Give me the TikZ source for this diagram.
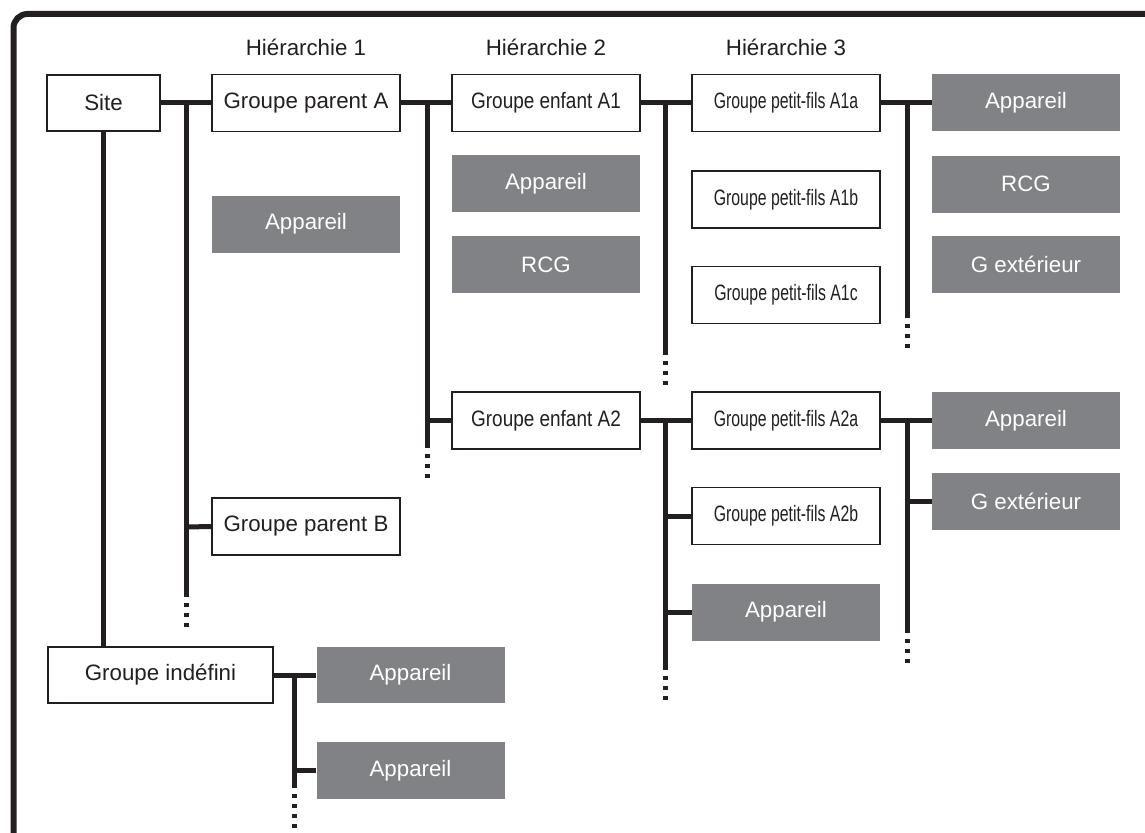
\documentclass[tikz,border=0pt]{standalone}
\usepackage{fontspec}
\setmainfont{Liberation Sans}
\usepackage{graphicx}
\definecolor{ink}{RGB}{35,31,32}
\definecolor{boxgray}{RGB}{128,130,133}
\tikzset{
  base/.style={rectangle, inner sep=0pt, minimum width=188pt, minimum height=57pt,
    font=\fontsize{22.3}{26}\selectfont, align=center},
  wbox/.style={base, draw=ink, line width=1.5pt, fill=white, text=ink},
  gbox/.style={base, fill=boxgray, text=white},
  hdr/.style={inner sep=0pt, font=\fontsize{22.3}{26}\selectfont, text=ink},
  bus/.style={draw=ink, line width=5pt},
  dots/.style={draw=ink, line width=5pt, dash pattern=on 4pt off 6pt, dash phase=4pt},
  frame/.style={draw=ink, line width=6pt, rounded corners=14pt}
}
\newcommand{\cnd}[2]{\scalebox{#1}[1]{#2}}
\begin{document}
\begin{tikzpicture}[x=1pt,y=-1pt]
\useasboundingbox (0,0) rectangle (1145,832);
\draw[frame] (13.5,850) -- (13.5,14) -- (1170,14);

% headers
\node[hdr] (h1) at (306,47) {Hiérarchie 1};
\node[hdr] (h2) at (546,47) {Hiérarchie 2};
\node[hdr] (h3) at (786,47) {Hiérarchie 3};

% nodes
\node[wbox, minimum width=113pt, minimum height=56pt] (site) at (103.5,103) {Site};
\node[wbox] (pA) at (306,103) {Groupe parent A};
\node[wbox] (e1) at (546,103) {\cnd{0.85}{Groupe enfant A1}};
\node[wbox] (g1a) at (786,103) {\cnd{0.71}{Groupe petit-fils A1a}};
\node[gbox] (d1a) at (1026,103) {Appareil};

\node[gbox] (appA) at (306,224) {Appareil};
\node[gbox] (appE1) at (546,183.5) {Appareil};
\node[gbox] (rcgE1) at (546,264.5) {RCG};
\node[wbox] (g1b) at (786,199.5) {\cnd{0.71}{Groupe petit-fils A1b}};
\node[wbox] (g1c) at (786,295) {\cnd{0.71}{Groupe petit-fils A1c}};
\node[gbox] (rcgR) at (1026,184) {RCG};
\node[gbox] (gextR) at (1026,264.5) {G extérieur};

\node[wbox] (e2) at (546,420.5) {\cnd{0.85}{Groupe enfant A2}};
\node[wbox] (g2a) at (786,420.5) {\cnd{0.71}{Groupe petit-fils A2a}};
\node[gbox] (d2a) at (1026,420.5) {Appareil};
\node[gbox] (gext2) at (1026,501.5) {G extérieur};
\node[wbox] (g2b) at (786,516) {\cnd{0.71}{Groupe petit-fils A2b}};
\node[gbox] (appG2) at (786,612) {Appareil};

\node[wbox] (pB) at (306,526.5) {Groupe parent B};

\node[wbox, minimum width=225pt, minimum height=56pt] (indef) at (160.5,675) {Groupe indéfini};
\node[gbox, minimum height=56pt] (appI1) at (410.5,675) {Appareil};
\node[gbox] (appI2) at (410.5,770.5) {Appareil};

% bus coordinates
\coordinate (b1t) at (186,103);   \coordinate (b1e) at (186,597); \coordinate (b1d) at (186,627);
\coordinate (b1p) at (186,527);
\coordinate (b2t) at (427,103);   \coordinate (b2e) at (427,448); \coordinate (b2d) at (427,478);
\coordinate (b2p) at (427,420.5);
\coordinate (b3t) at (665,103);   \coordinate (b3e) at (665,355); \coordinate (b3d) at (665,385);
\coordinate (b4t) at (907,103);   \coordinate (b4e) at (907,318); \coordinate (b4d) at (907,348);
\coordinate (b5t) at (665,420.5); \coordinate (b5e) at (665,670); \coordinate (b5d) at (665,700);
\coordinate (b5p) at (665,516);   \coordinate (b5q) at (665,612);
\coordinate (b6t) at (907,420.5); \coordinate (b6e) at (907,633); \coordinate (b6d) at (907,663);
\coordinate (b6p) at (907,501.5);
\coordinate (b7t) at (294,675);   \coordinate (b7e) at (294,788); \coordinate (b7d) at (294,828);
\coordinate (b7p) at (294,770.5);

% connectors
\draw[bus] (site.east) -- (pA.west);
\draw[bus] (b1t) -- (b1e);
\draw[dots] (b1e) -- (b1d);
\draw[bus] (b1p) -- (pB.west);
\draw[bus] (site.south) -- (site.south |- indef.north);

\draw[bus] (pA.east) -- (e1.west);
\draw[bus] (b2t) -- (b2e);
\draw[dots] (b2e) -- (b2d);
\draw[bus] (b2p) -- (e2.west);

\draw[bus] (e1.east) -- (g1a.west);
\draw[bus] (b3t) -- (b3e);
\draw[dots] (b3e) -- (b3d);

\draw[bus] (g1a.east) -- (d1a.west);
\draw[bus] (b4t) -- (b4e);
\draw[dots] (b4e) -- (b4d);

\draw[bus] (e2.east) -- (g2a.west);
\draw[bus] (b5t) -- (b5e);
\draw[dots] (b5e) -- (b5d);
\draw[bus] (b5p) -- (g2b.west);
\draw[bus] (b5q) -- (appG2.west);

\draw[bus] (g2a.east) -- (d2a.west);
\draw[bus] (b6t) -- (b6e);
\draw[dots] (b6e) -- (b6d);
\draw[bus] (b6p) -- (gext2.west);

\draw[bus] (indef.east) -- (appI1.west);
\draw[bus] (b7t) -- (b7e);
\draw[dots] (b7e) -- (b7d);
\draw[bus] (b7p) -- (appI2.west);
\end{tikzpicture}
\end{document}
